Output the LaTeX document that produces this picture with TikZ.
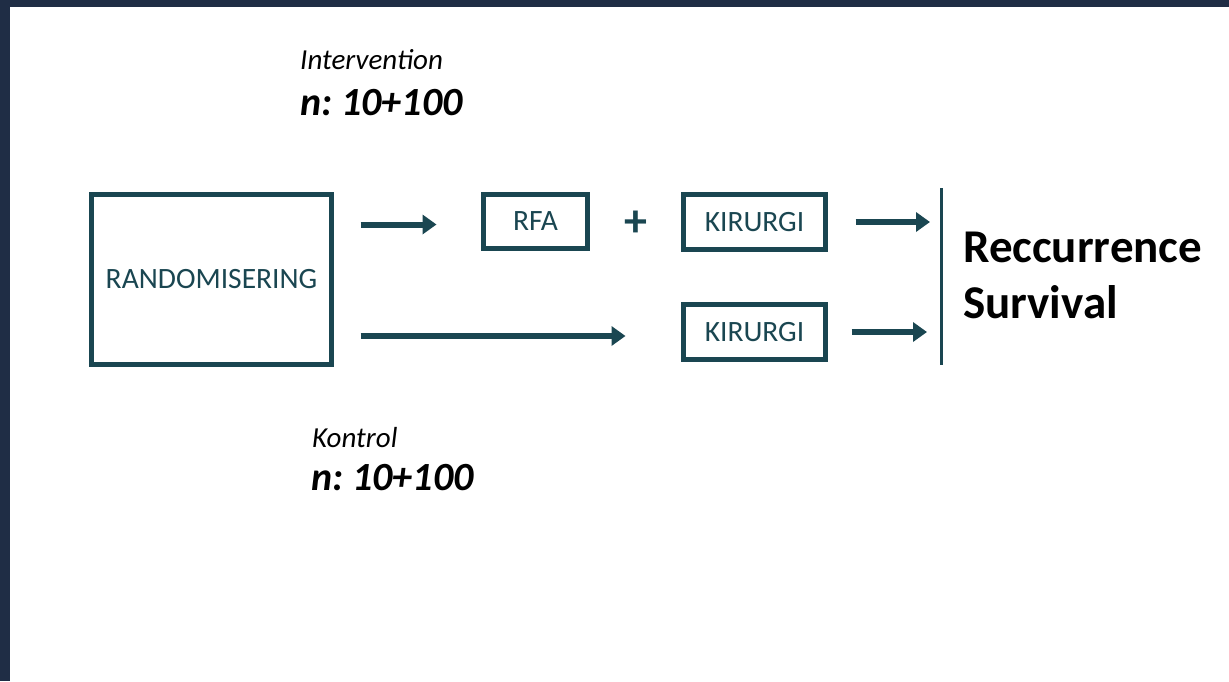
\documentclass[tikz,border=0pt]{standalone}
\usepackage{fontspec}
\setmainfont{Carlito}
\usetikzlibrary{arrows.meta}
\definecolor{tealdk}{HTML}{1A4651}
\definecolor{navy}{HTML}{1F2D45}
\frenchspacing
\tikzset{
	box/.style={draw=tealdk, line width=5pt, outer sep=0pt, inner sep=0pt, text=tealdk, font=\fontsize{29.5}{32}\selectfont},
	arr/.style={draw=tealdk, line width=6pt, -{Triangle[length=14pt, width=19pt]}},
	lbl/.style={anchor=base west, inner sep=0pt},
}

\begin{document}
\begin{tikzpicture}[x=1pt, y=-1pt]
		%%%%% START %%%%%
		
		\useasboundingbox (0, 0) rectangle (1229, 681);
		\fill[white] (0, 0) rectangle (1229, 681);
		\fill[navy] (0, 0) rectangle (1229, 7);
		\fill[navy] (0, 0) rectangle (10, 681);
		
		\node[box, minimum width=240pt, minimum height=170pt] (rand) at (211.5, 279.5) {RANDOMISERING};
		\node[box, minimum width=104pt, minimum height=54pt] (rfa) at (535.5, 221.5) {RFA};
		\node[box, minimum width=142pt, minimum height=55pt] (kir1) at (754.5, 222) {KIRURGI};
		\node[box, minimum width=142pt, minimum height=55pt] (kir2) at (754.5, 332) {KIRURGI};
		\node[text=tealdk, font=\fontsize{46}{48}\selectfont\bfseries] (plus) at (636, 224) {+};
		
		\coordinate (bartop) at (941, 188);
		\coordinate (barbot) at (941, 365);
		\draw[tealdk, line width=3pt] (bartop) -- (barbot);
		
		\draw[arr, shorten <=29pt, shorten >=47pt] ([yshift=-3pt]rand.east |- rfa) -- ([yshift=-3pt]rfa.west);
		\draw[arr, shorten <=29pt, shorten >=58pt] ([yshift=-4pt]rand.east |- kir2) -- ([yshift=-4pt]kir2.west);
		\draw[arr, shorten <=30pt, shorten >=11pt] (kir1.east) -- (kir1 -| bartop);
		\draw[arr, shorten <=26pt, shorten >=14pt] (kir2.east) -- (kir2 -| bartop);
		
		\node[lbl, font=\fontsize{47}{56}\selectfont\bfseries] (recc) at (963, 262) {Reccurrence};
		\node[lbl, font=\fontsize{47}{56}\selectfont\bfseries] (surv) at (963, 318) {Survival};
		
		\node[lbl, font=\fontsize{29}{32}\selectfont\itshape] (interv) at (300, 69) {Intervention};
		\node[lbl, font=\fontsize{40}{44}\selectfont\bfseries\itshape] (ninterv) at (300, 115) {n: 10+100};
		\node[lbl, font=\fontsize{29}{32}\selectfont\itshape] (kontrol) at (312, 447) {Kontrol};
		\node[lbl, font=\fontsize{40}{44}\selectfont\bfseries\itshape] (nkontrol) at (311, 490) {n: 10+100};
		
		%%%%% END %%%%%
	\end{tikzpicture}
\end{document}
